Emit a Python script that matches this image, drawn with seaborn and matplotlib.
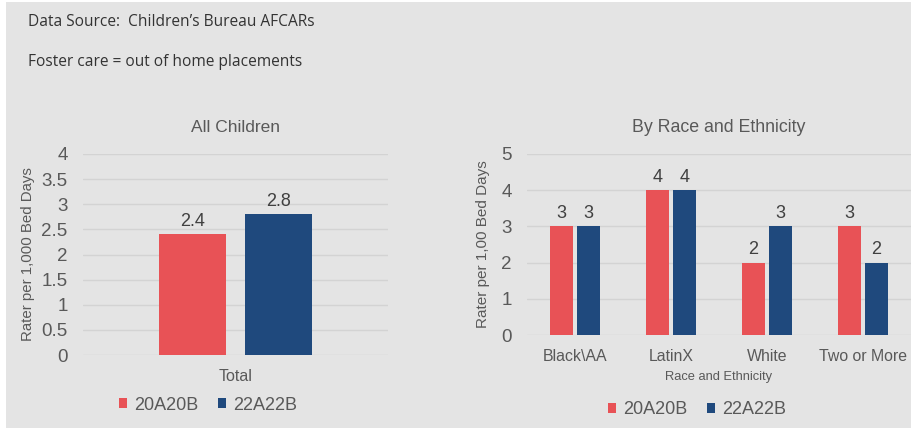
import matplotlib
matplotlib.use("Agg")
import matplotlib.pyplot as plt
from matplotlib.patches import Rectangle
import pandas as pd
import seaborn as sns

# ---- data ----
periods = ["20A20B", "22A22B"]
total_category = ["Total"]
total_values = [2.4, 2.8]

race_categories = ["Black\\AA", "LatinX", "White", "Two or More"]
race_20A20B = [3, 4, 2, 3]
race_22A22B = [3, 4, 3, 2]

colors = {"20A20B": "#E85256", "22A22B": "#1F497D"}
text_color = "#595959"
bg = "#E4E4E4"
grid_color = "#D3D3D3"

df_total = pd.DataFrame({
    "category": total_category * len(periods),
    "period": periods,
    "rate": total_values,
})
df_race = pd.DataFrame({
    "category": race_categories * 2,
    "period": [periods[0]] * len(race_categories) + [periods[1]] * len(race_categories),
    "rate": race_20A20B + race_22A22B,
})

sns.set_theme(style="white")
plt.rcParams["font.family"] = ["Liberation Sans", "DejaVu Sans"]

W, H = 911, 432
fig = plt.figure(figsize=(W / 100, H / 100), dpi=100, facecolor="white")

# grey panel behind everything
fig.patches.append(Rectangle((6 / W, 4 / H), (W - 6) / W, (H - 6) / H,
                             transform=fig.transFigure, facecolor=bg,
                             edgecolor="none", zorder=-10))

note_font = ["Open Sans", "DejaVu Sans"]
fig.text(28 / W, 1 - 22 / H, "Data Source:  Children\u2019s Bureau AFCARs",
         fontsize=11.2, color="#333333", va="center", ha="left", family=note_font)
fig.text(28 / W, 1 - 62 / H, "Foster care = out of home placements",
         fontsize=11.2, color="#333333", va="center", ha="left", family=note_font)


def px_axes(x0, x1, y_top, y_bot):
    return fig.add_axes([x0 / W, 1 - y_bot / H, (x1 - x0) / W, (y_bot - y_top) / H])


def style_axes(ax, ymax, step):
    ax.set_facecolor(bg)
    ax.set_ylim(0, ymax)
    ticks = [i * step for i in range(int(round(ymax / step)) + 1)]
    ax.set_yticks(ticks)
    ax.set_yticklabels([f"{t:g}" for t in ticks])
    for s in ax.spines.values():
        s.set_visible(False)
    ax.yaxis.grid(True, color=grid_color, linewidth=1)
    ax.set_axisbelow(True)
    ax.tick_params(axis="y", length=0, pad=11, labelsize=13.5, labelcolor=text_color)
    ax.tick_params(axis="x", length=0, labelcolor=text_color)


legend_kw = dict(loc="center", ncol=2, frameon=False, fontsize=13,
                 handlelength=0.45, handleheight=0.45, handletextpad=0.4,
                 columnspacing=1.1, labelcolor=text_color)

# ---- left: all children ----
ax1 = px_axes(83, 388, 154, 355)
sns.barplot(data=df_total, x="category", y="rate", hue="period", palette=colors,
            saturation=1, width=0.564, gap=0.21, ax=ax1, edgecolor="none", legend=True)
style_axes(ax1, 4, 0.5)
ax1.tick_params(axis="x", labelsize=11.5, pad=10)
ax1.set_xlabel("")
ax1.set_ylabel("Rater per 1,000 Bed Days", fontsize=10.8, color=text_color, labelpad=5)
ax1.set_title("All Children", fontsize=12.5, color=text_color, pad=16)
for c in ax1.containers:
    ax1.bar_label(c, fmt="%.1f", padding=3, fontsize=13, color="#404040")
h, l = ax1.get_legend_handles_labels()
ax1.legend(h, l, bbox_to_anchor=(208 / W, 1 - 405 / H),
           bbox_transform=fig.transFigure, **legend_kw)

# ---- right: by race and ethnicity ----
ax2 = px_axes(527, 911, 154, 335)
sns.barplot(data=df_race, x="category", y="rate", hue="period", palette=colors,
            saturation=1, order=race_categories, width=0.5625, gap=0.185, ax=ax2,
            edgecolor="none", legend=True)
style_axes(ax2, 5, 1)
ax2.tick_params(axis="x", labelsize=11.4, pad=10)
ax2.set_xlabel("Race and Ethnicity", fontsize=9.3, color=text_color, labelpad=5)
ax2.set_ylabel("Rater per 1,00 Bed Days", fontsize=11, color=text_color, labelpad=8)
ax2.set_title("By Race and Ethnicity", fontsize=12.8, color=text_color, pad=16)
for c in ax2.containers:
    ax2.bar_label(c, fmt="%d", padding=3, fontsize=13, color="#404040")
h, l = ax2.get_legend_handles_labels()
ax2.legend(h, l, bbox_to_anchor=(697 / W, 1 - 410 / H),
           bbox_transform=fig.transFigure, **legend_kw)

fig.savefig("out.png", dpi=100, facecolor="white")
